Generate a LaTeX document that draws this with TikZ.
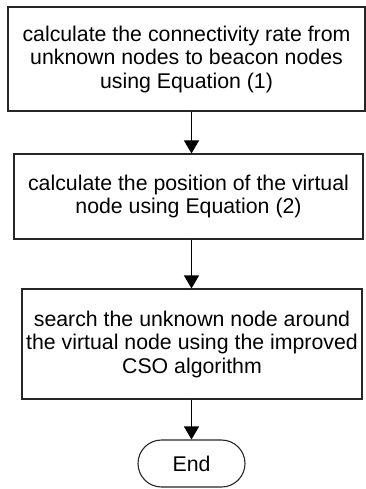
\documentclass[tikz,border=0pt]{standalone}
\usepackage{fontspec}
\setmainfont{Liberation Sans}
\usetikzlibrary{arrows.meta,shapes.misc}
\begin{document}
\begin{tikzpicture}[x=1pt,y=1pt,
  box/.style={draw=black!85,line width=1.1pt,align=center,font=\fontsize{21.3}{23.5}\selectfont,inner sep=0pt},
  term/.style={draw=black!85,line width=1.1pt,rounded rectangle,font=\fontsize{21.3}{23.5}\selectfont,minimum width=107pt,minimum height=47pt,inner sep=0pt},
  arr/.style={draw=black,line width=1.1pt,-{Triangle[width=15pt,length=13pt]}}]
\useasboundingbox (0,0) rectangle (365,-489);
\node[box,minimum width=357pt,minimum height=104pt] (b1) at (186.5,-59) {calculate the connectivity rate from\\unknown nodes to beacon nodes\\using Equation (1)};
\node[box,minimum width=349pt,minimum height=85pt] (b2) at (188.5,-196.5) {calculate the position of the virtual\\node using Equation (2)};
\node[box,minimum width=340pt,minimum height=110pt] (b3) at (192,-344) {search the unknown node around\\the virtual node using the improved\\CSO algorithm};
\node[term] (e) at (191.5,-463.5) {End};
\draw[arr] (b1.south -| e.north) -- (b2.north -| e.north);
\draw[arr] (b2.south -| e.north) -- (b3.north -| e.north);
\draw[arr] (b3.south -| e.north) -- (e.north);
\end{tikzpicture}
\end{document}
